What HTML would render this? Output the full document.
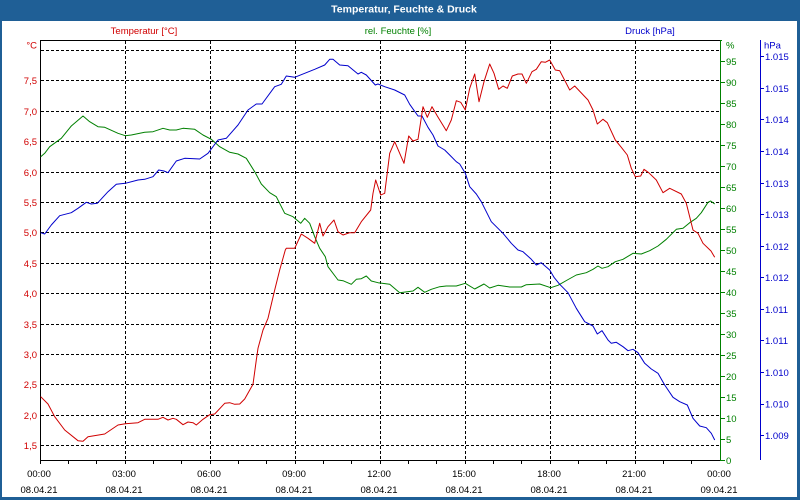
<!DOCTYPE html>
<html>
<head>
<meta charset="utf-8">
<style>
  html, body { margin: 0; padding: 0; background: #ffffff; }
  svg { display: block; }
  text { font-family: "Liberation Sans", "DejaVu Sans", sans-serif; }
</style>
</head>
<body>
<svg width="800" height="500" viewBox="0 0 800 500" xmlns="http://www.w3.org/2000/svg">
  <!-- window background -->
  <rect x="0" y="0" width="800" height="500" fill="#ffffff"/>
  <!-- frame -->
  <rect x="0" y="0" width="800" height="21" fill="#1f5f96"/>
  <rect x="0" y="0" width="2" height="500" fill="#1f5f96"/>
  <rect x="797" y="0" width="3" height="500" fill="#1f5f96"/>
  <rect x="0" y="497" width="800" height="3" fill="#1f5f96"/>
  <text x="404" y="12.5" font-size="10.5" font-weight="bold" fill="#ffffff" text-anchor="middle">Temperatur, Feuchte &amp; Druck</text>

  <!-- legend titles -->
  <text x="144" y="34" font-size="9.5" fill="#d00000" text-anchor="middle">Temperatur [°C]</text>
  <text x="398" y="34" font-size="9.5" fill="#008000" text-anchor="middle">rel. Feuchte [%]</text>
  <text x="650" y="34" font-size="9.5" fill="#0000cc" text-anchor="middle">Druck [hPa]</text>

  <!-- grid -->
  <g stroke="#000" stroke-width="1" stroke-dasharray="3,2" shape-rendering="crispEdges" fill="none">
    <line x1="41" y1="50.5" x2="720" y2="50.5"/>
    <line x1="41" y1="80.5" x2="720" y2="80.5"/>
    <line x1="41" y1="111.5" x2="720" y2="111.5"/>
    <line x1="41" y1="141.5" x2="720" y2="141.5"/>
    <line x1="41" y1="172.5" x2="720" y2="172.5"/>
    <line x1="41" y1="202.5" x2="720" y2="202.5"/>
    <line x1="41" y1="232.5" x2="720" y2="232.5"/>
    <line x1="41" y1="263.5" x2="720" y2="263.5"/>
    <line x1="41" y1="293.5" x2="720" y2="293.5"/>
    <line x1="41" y1="324.5" x2="720" y2="324.5"/>
    <line x1="41" y1="354.5" x2="720" y2="354.5"/>
    <line x1="41" y1="384.5" x2="720" y2="384.5"/>
    <line x1="41" y1="415.5" x2="720" y2="415.5"/>
    <line x1="41" y1="445.5" x2="720" y2="445.5"/>
    <line x1="125.5" y1="41" x2="125.5" y2="460"/>
    <line x1="210.5" y1="41" x2="210.5" y2="460"/>
    <line x1="295.5" y1="41" x2="295.5" y2="460"/>
    <line x1="380.5" y1="41" x2="380.5" y2="460"/>
    <line x1="465.5" y1="41" x2="465.5" y2="460"/>
    <line x1="550.5" y1="41" x2="550.5" y2="460"/>
    <line x1="635.5" y1="41" x2="635.5" y2="460"/>
  </g>

  <!-- plot frame -->
  <g stroke="#000" stroke-width="1" shape-rendering="crispEdges">
    <line x1="40.5" y1="40" x2="40.5" y2="461"/>
    <line x1="40" y1="40.5" x2="720" y2="40.5"/>
    <line x1="40" y1="460.5" x2="721" y2="460.5"/>
  </g>
  <!-- bottom minor ticks -->
  <g stroke="#000" stroke-width="1" shape-rendering="crispEdges">
    <line x1="40.5" y1="460" x2="40.5" y2="464"/>
    <line x1="68.5" y1="460" x2="68.5" y2="464"/>
    <line x1="96.5" y1="460" x2="96.5" y2="464"/>
    <line x1="125.5" y1="460" x2="125.5" y2="464"/>
    <line x1="153.5" y1="460" x2="153.5" y2="464"/>
    <line x1="181.5" y1="460" x2="181.5" y2="464"/>
    <line x1="210.5" y1="460" x2="210.5" y2="464"/>
    <line x1="238.5" y1="460" x2="238.5" y2="464"/>
    <line x1="266.5" y1="460" x2="266.5" y2="464"/>
    <line x1="295.5" y1="460" x2="295.5" y2="464"/>
    <line x1="323.5" y1="460" x2="323.5" y2="464"/>
    <line x1="351.5" y1="460" x2="351.5" y2="464"/>
    <line x1="380.5" y1="460" x2="380.5" y2="464"/>
    <line x1="408.5" y1="460" x2="408.5" y2="464"/>
    <line x1="436.5" y1="460" x2="436.5" y2="464"/>
    <line x1="465.5" y1="460" x2="465.5" y2="464"/>
    <line x1="493.5" y1="460" x2="493.5" y2="464"/>
    <line x1="521.5" y1="460" x2="521.5" y2="464"/>
    <line x1="550.5" y1="460" x2="550.5" y2="464"/>
    <line x1="578.5" y1="460" x2="578.5" y2="464"/>
    <line x1="606.5" y1="460" x2="606.5" y2="464"/>
    <line x1="635.5" y1="460" x2="635.5" y2="464"/>
    <line x1="663.5" y1="460" x2="663.5" y2="464"/>
    <line x1="691.5" y1="460" x2="691.5" y2="464"/>
  </g>

  <!-- green axis -->
  <g stroke="#008000" stroke-width="1" shape-rendering="crispEdges">
    <line x1="720.5" y1="40" x2="720.5" y2="461"/>
    <line x1="720" y1="40.5" x2="722" y2="40.5"/>
    <line x1="721" y1="460.5" x2="725" y2="460.5"/>
    <line x1="721" y1="439.5" x2="725" y2="439.5"/>
    <line x1="721" y1="418.5" x2="725" y2="418.5"/>
    <line x1="721" y1="397.5" x2="725" y2="397.5"/>
    <line x1="721" y1="376.5" x2="725" y2="376.5"/>
    <line x1="721" y1="355.5" x2="725" y2="355.5"/>
    <line x1="721" y1="334.5" x2="725" y2="334.5"/>
    <line x1="721" y1="313.5" x2="725" y2="313.5"/>
    <line x1="721" y1="292.5" x2="725" y2="292.5"/>
    <line x1="721" y1="271.5" x2="725" y2="271.5"/>
    <line x1="721" y1="250.5" x2="725" y2="250.5"/>
    <line x1="721" y1="229.5" x2="725" y2="229.5"/>
    <line x1="721" y1="208.5" x2="725" y2="208.5"/>
    <line x1="721" y1="187.5" x2="725" y2="187.5"/>
    <line x1="721" y1="166.5" x2="725" y2="166.5"/>
    <line x1="721" y1="145.5" x2="725" y2="145.5"/>
    <line x1="721" y1="124.5" x2="725" y2="124.5"/>
    <line x1="721" y1="103.5" x2="725" y2="103.5"/>
    <line x1="721" y1="82.5" x2="725" y2="82.5"/>
    <line x1="721" y1="61.5" x2="725" y2="61.5"/>
  </g>
  <g font-size="9.5" fill="#008000">
    <text x="726" y="48.5">%</text>
    <text x="726" y="65">95</text>
    <text x="726" y="86">90</text>
    <text x="726" y="107">85</text>
    <text x="726" y="128">80</text>
    <text x="726" y="149">75</text>
    <text x="726" y="170">70</text>
    <text x="726" y="191">65</text>
    <text x="726" y="212">60</text>
    <text x="726" y="233">55</text>
    <text x="726" y="254">50</text>
    <text x="726" y="275">45</text>
    <text x="726" y="296">40</text>
    <text x="726" y="317">35</text>
    <text x="726" y="338">30</text>
    <text x="726" y="359">25</text>
    <text x="726" y="380">20</text>
    <text x="726" y="401">15</text>
    <text x="726" y="422">10</text>
    <text x="726" y="443">5</text>
    <text x="726" y="464">0</text>
  </g>

  <!-- blue axis -->
  <g stroke="#0000cc" stroke-width="1" shape-rendering="crispEdges">
    <line x1="760.5" y1="40" x2="760.5" y2="460"/>
    <line x1="761" y1="56.5" x2="764" y2="56.5"/>
    <line x1="761" y1="88.5" x2="764" y2="88.5"/>
    <line x1="761" y1="119.5" x2="764" y2="119.5"/>
    <line x1="761" y1="151.5" x2="764" y2="151.5"/>
    <line x1="761" y1="183.5" x2="764" y2="183.5"/>
    <line x1="761" y1="214.5" x2="764" y2="214.5"/>
    <line x1="761" y1="246.5" x2="764" y2="246.5"/>
    <line x1="761" y1="277.5" x2="764" y2="277.5"/>
    <line x1="761" y1="309.5" x2="764" y2="309.5"/>
    <line x1="761" y1="340.5" x2="764" y2="340.5"/>
    <line x1="761" y1="372.5" x2="764" y2="372.5"/>
    <line x1="761" y1="404.5" x2="764" y2="404.5"/>
    <line x1="761" y1="435.5" x2="764" y2="435.5"/>
  </g>
  <g font-size="9.5" fill="#0000cc">
    <text x="764" y="48.5">hPa</text>
    <text x="765" y="60.2">1.015</text>
    <text x="765" y="92">1.015</text>
    <text x="765" y="123">1.014</text>
    <text x="765" y="155">1.014</text>
    <text x="765" y="187">1.013</text>
    <text x="765" y="218">1.013</text>
    <text x="765" y="250">1.012</text>
    <text x="765" y="281">1.012</text>
    <text x="765" y="313">1.011</text>
    <text x="765" y="344">1.011</text>
    <text x="765" y="376">1.010</text>
    <text x="765" y="407.5">1.010</text>
    <text x="765" y="439">1.009</text>
  </g>

  <!-- left axis labels -->
  <g font-size="9.5" fill="#d00000" text-anchor="end">
    <text x="37" y="48.5">°C</text>
    <text x="37" y="84">7,5</text>
    <text x="37" y="115">7,0</text>
    <text x="37" y="145">6,5</text>
    <text x="37" y="176">6,0</text>
    <text x="37" y="206">5,5</text>
    <text x="37" y="236">5,0</text>
    <text x="37" y="267">4,5</text>
    <text x="37" y="297">4,0</text>
    <text x="37" y="328">3,5</text>
    <text x="37" y="358">3,0</text>
    <text x="37" y="388">2,5</text>
    <text x="37" y="419">2,0</text>
    <text x="37" y="449">1,5</text>
  </g>

  <!-- bottom labels -->
  <g font-size="9.5" fill="#000" text-anchor="middle">
    <text x="39" y="477">00:00</text>
    <text x="124" y="477">03:00</text>
    <text x="209" y="477">06:00</text>
    <text x="294" y="477">09:00</text>
    <text x="379" y="477">12:00</text>
    <text x="464" y="477">15:00</text>
    <text x="549" y="477">18:00</text>
    <text x="634" y="477">21:00</text>
    <text x="719" y="477">00:00</text>
    <text x="39" y="493">08.04.21</text>
    <text x="124" y="493">08.04.21</text>
    <text x="209" y="493">08.04.21</text>
    <text x="294" y="493">08.04.21</text>
    <text x="379" y="493">08.04.21</text>
    <text x="464" y="493">08.04.21</text>
    <text x="549" y="493">08.04.21</text>
    <text x="634" y="493">08.04.21</text>
    <text x="719" y="493">09.04.21</text>
  </g>

  <!-- series -->
  <g fill="none" stroke-width="1" stroke-linejoin="round">
    <polyline stroke="#008000" points="40.7,156.7 44.7,153.3 49.7,146.7 61.3,138.3 71.3,126 83,116 89.7,121.7 98,126.7 104.7,127.3 118,133.3 125.3,135.7 131.3,135 144.7,132.3 153,131.7 163,128.3 169.7,130 176.3,130 183,128.3 194.7,129.3 203,135 211.3,139.3 219.7,146.7 229.7,152.3 238,154 246.3,158.3 254.7,171.7 261.3,184 269.7,192.7 276.3,196.7 284.7,213.3 293,216.7 300.7,223.3 304.7,218.3 309.7,223.3 314.7,236.7 319.7,248.3 325.3,256.7 328,266.7 338,280 343,280.7 351.3,284.3 356.3,279.3 361.3,278.7 366.3,276 371.3,281 378,282.7 389.7,284.3 399.7,292.7 413,291 418,287.3 424.7,292.3 431.3,289.3 439.7,286.7 446.3,286 456.3,286 465.3,283.3 474.7,289 484,284 489.7,288 498,285.3 509.7,287 521.3,287 526.3,284.7 539.7,284 550.7,287.7 558,285.3 567.3,280 576.3,275 586.3,272.7 593,269.3 598,266 602,268.3 608,266.7 615.3,261.7 623,259.3 633,253.3 641.3,254 649.7,250.7 658,246 666.3,239.3 676.3,229.3 683,228.3 689.7,222.7 696.3,218.3 701.3,212.7 708,202.3 710.7,201 714.7,204"/>
    <polyline stroke="#0000cc" points="40.7,232.7 44.7,234 51.3,225 59.7,215.7 71.3,212.7 78,208.3 86.3,202.3 91.3,204 97.3,203.3 108,191.7 116.3,184.3 125.3,183.3 138,180 144.7,179.3 153,176.7 158.7,170 164,171 168,172.7 176.3,161 184.7,158.3 199.7,159 208,153.3 218,140 226.3,138.3 238,125 248,110 256.3,104 262,104 274.7,86.7 281.3,84.3 286.3,76 294.7,77.3 304.7,73.3 314.7,69.3 324.7,65 329.7,59.3 333,59.3 339.7,65 348,65.7 358,74 361.3,72.3 366.3,75 375.3,85 378,84 384.7,86.7 394.7,90 404.7,95 409.7,104.3 418,116 422,116 428,127.3 433,135 438,146 444.7,150 449.7,155 456.3,161.7 459.7,164 465.3,173.3 469.7,186.7 476.3,194 481.3,201.7 491.3,221.7 503,233.3 511.3,243.3 518,250 523,251.7 531.3,259.3 536.3,265 541.3,262.7 549.7,270 554,277.3 559.7,284.3 568,292.7 576.3,308.3 584.7,321.7 593,326 597.3,334 602,330.7 608,340 611.3,343.3 616.3,342.3 623,346.7 628,350.7 633,349.3 638,352.7 644.7,363.3 651.3,369 658,373.3 664.7,385 673,397.3 679.7,401.7 687.3,405 693,418.3 699.7,426 706.3,427.7 711.3,433.3 714.7,440"/>
    <polyline stroke="#d00000" points="40.7,396.7 48,404 54.7,416.7 64.7,430 78,440.7 83,441.3 88,436.7 104.7,434 118,425 125.3,423.7 138,422.7 144.7,419.3 158,419.3 163,417.3 168,420 173,418.3 176.3,419.3 183,424.7 188,422 193,422.7 196.3,425 203,419.3 209.7,414.7 214.7,414 224.7,403.3 229.7,402.7 234.7,404.3 239.7,404 244.7,399 253,384.3 256.3,360 258,348.3 263,330 268,318.3 274.7,290 279.7,270 285.3,250 286.3,248.3 294.7,248.3 301.3,234 308,238.3 314.7,243.3 319.7,223.3 323,236 328,226.7 334,220 338,231.7 343,235 349.7,232.7 354.7,232.7 361.3,221.7 370.7,210 373,193.3 375.7,180 380.7,195 384.7,193.3 389.7,153.3 394.7,141.7 404,163.3 408.7,136 413,141 418,139.3 423,106.7 427.3,117.3 432,106.7 437.3,116 446.3,130.7 451.3,120 456.3,100.7 460.7,102.3 465.3,110 469.7,88.3 474.7,74 479,101.7 484,81.7 489.7,64 494,73.3 498.7,89.3 503,86 507.3,88.3 512.3,76 518,74 522,74 526.3,83.3 532,71.7 536.3,69.3 541.3,61.7 545.3,62.3 549.7,60 555.3,70 559.7,70.7 569.7,90 574.7,86 588,100 593,110 597.3,124 603,119.3 607.3,122.7 615.3,140 621.3,147.3 627.3,155 631.3,168.3 635.3,176.7 640.7,176 644,169.3 648.7,172.7 656.3,180 663,192.7 669.7,188.3 681.3,194 686.3,203.3 693,230 698,233.3 703,243.3 711,251 714.7,257.3"/>
  </g>
</svg>
</body>
</html>
